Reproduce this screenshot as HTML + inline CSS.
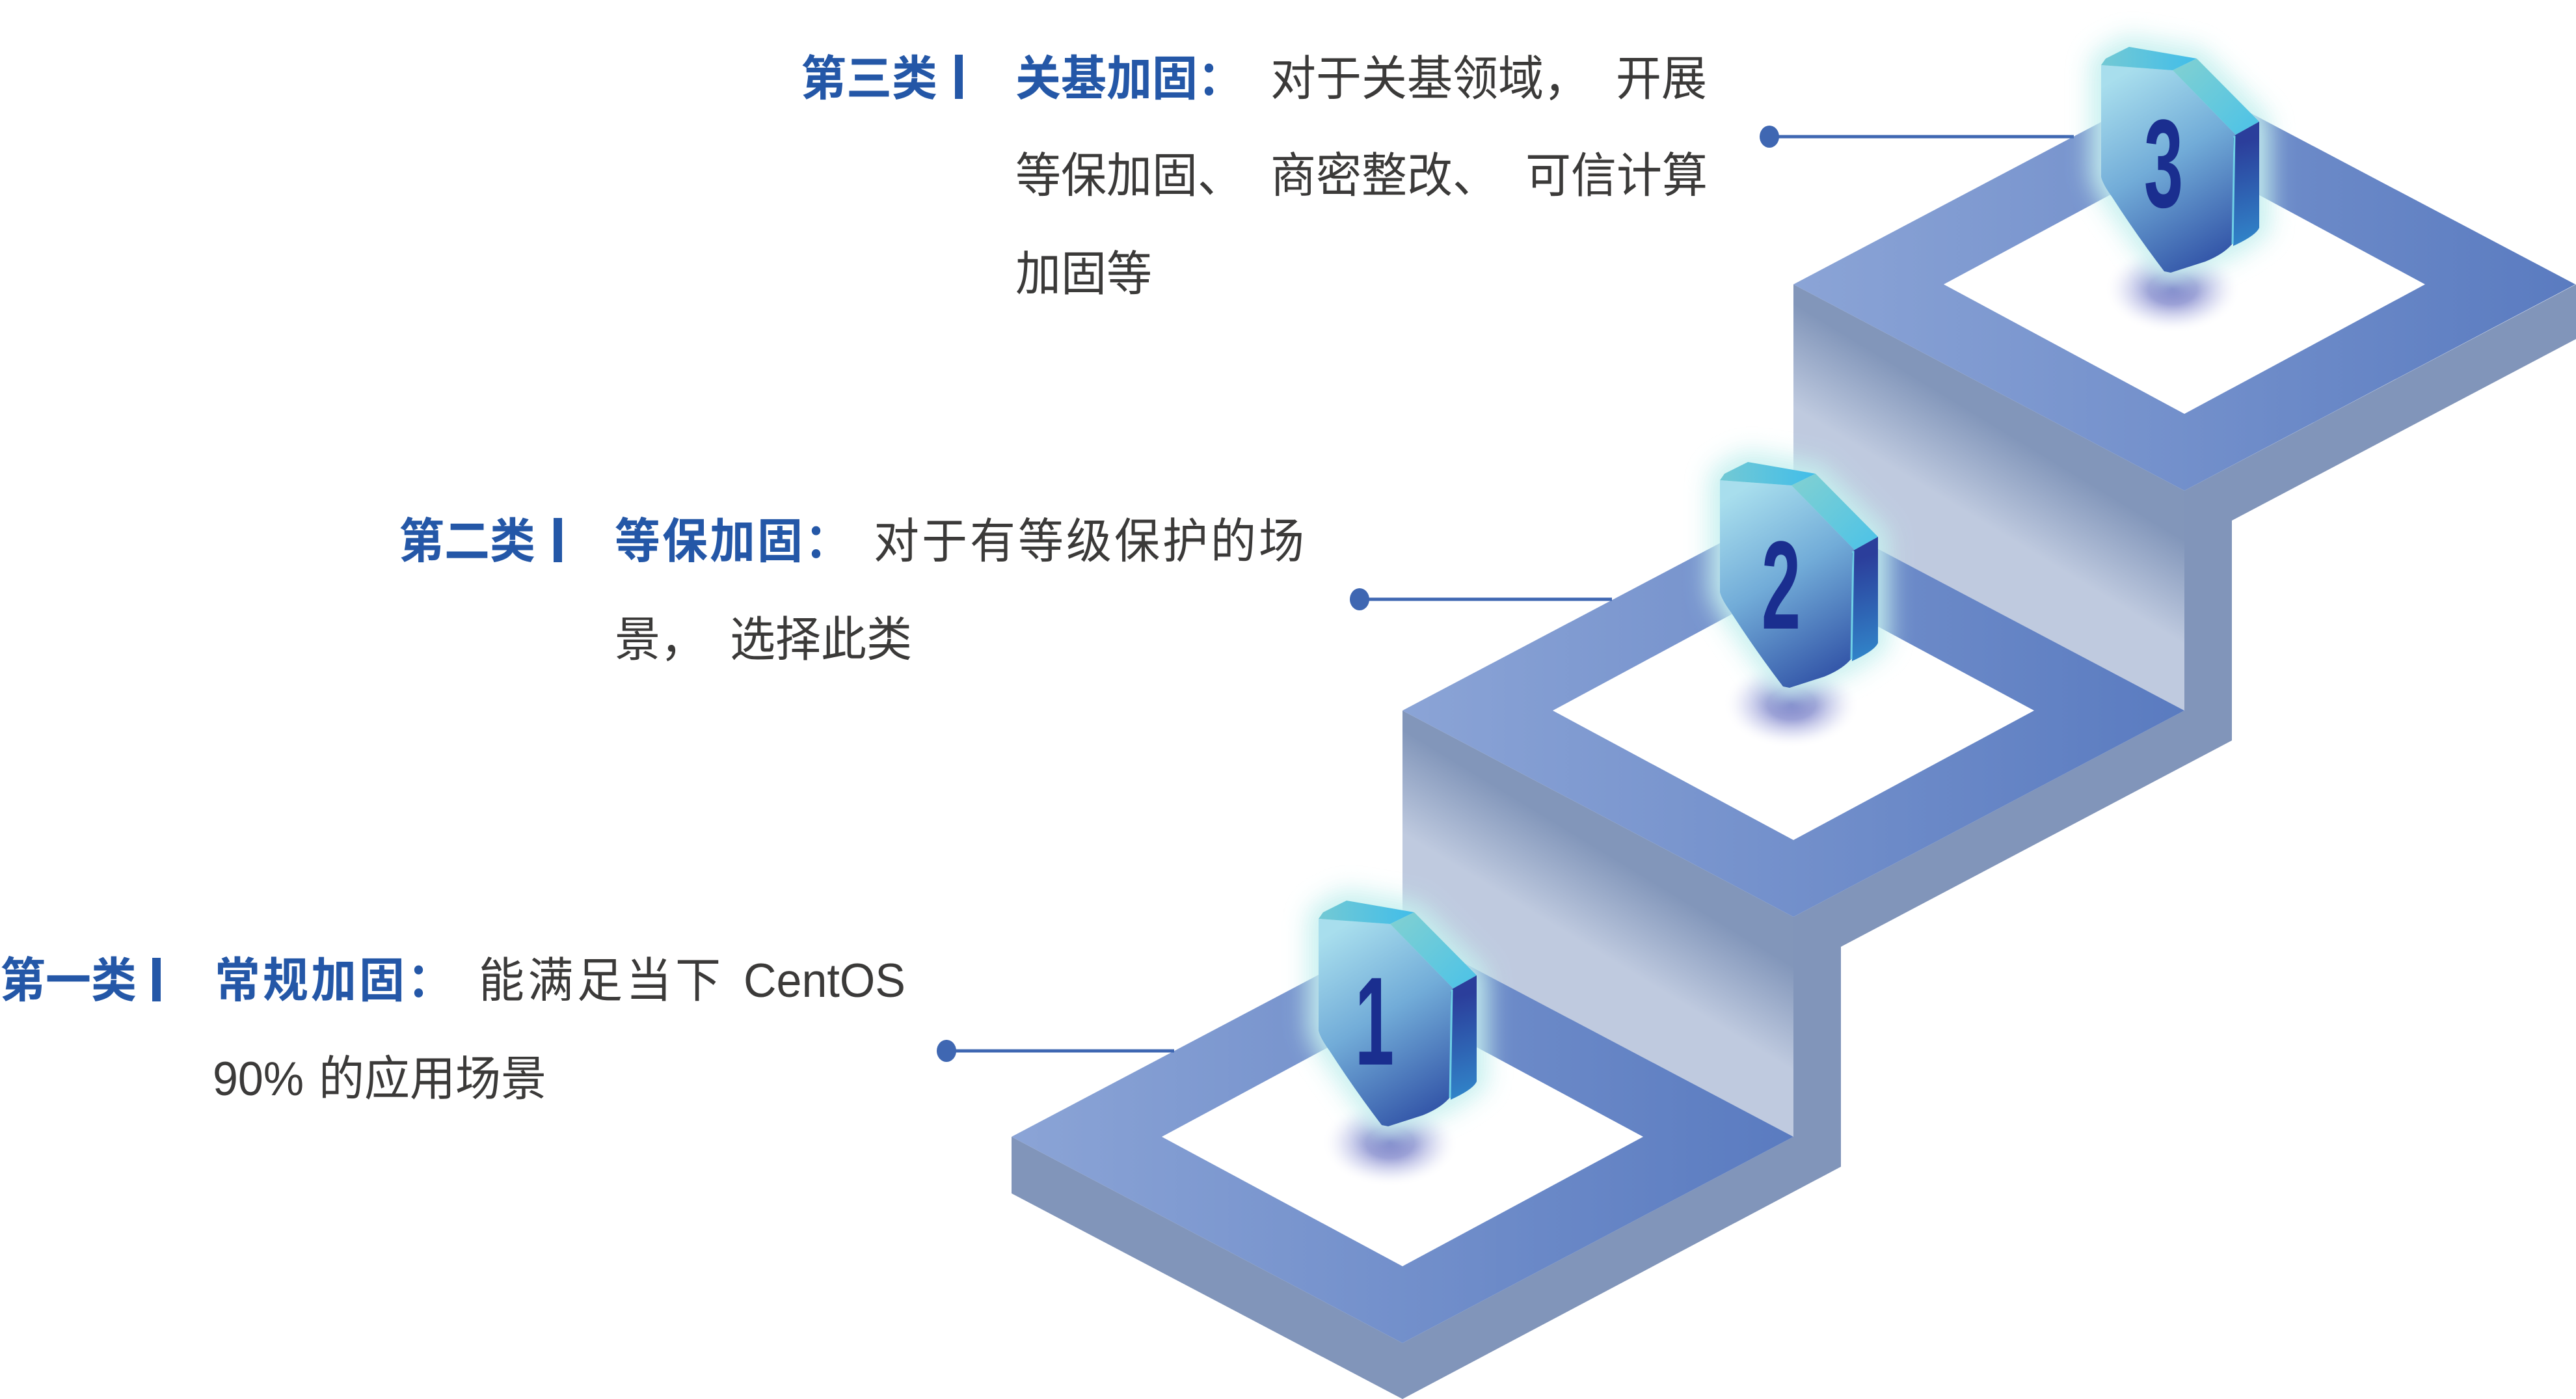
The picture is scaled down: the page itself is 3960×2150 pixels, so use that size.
<!DOCTYPE html>
<html><head><meta charset="utf-8"><style>
html,body{margin:0;padding:0;background:#fff;}
svg{display:block;}
.t{font-family:"Liberation Sans","Noto Sans CJK SC",sans-serif;font-size:70px;}
.b{fill:#2457a7;font-weight:700;}
.d{fill:#3b3a39;font-weight:400;}
</style></head><body>
<svg width="3960" height="2150" viewBox="0 0 3960 2150" xmlns="http://www.w3.org/2000/svg">
<defs>
  <linearGradient id="top1" gradientUnits="userSpaceOnUse" x1="1555" y1="0" x2="2757" y2="0"><stop offset="0" stop-color="#8ba4d6"/><stop offset="1" stop-color="#5a7bc0"/></linearGradient>
  <linearGradient id="top2" gradientUnits="userSpaceOnUse" x1="2156" y1="0" x2="3358" y2="0"><stop offset="0" stop-color="#8ba4d6"/><stop offset="1" stop-color="#5a7bc0"/></linearGradient>
  <linearGradient id="top3" gradientUnits="userSpaceOnUse" x1="2757" y1="0" x2="3959" y2="0"><stop offset="0" stop-color="#8ba4d6"/><stop offset="1" stop-color="#5a7bc0"/></linearGradient>
  <linearGradient id="ris3" gradientUnits="userSpaceOnUse" x1="3052" y1="805" x2="3123" y2="688"><stop offset="0" stop-color="#bfcadf"/><stop offset="1" stop-color="#8296ba"/></linearGradient>
  <linearGradient id="ris2" gradientUnits="userSpaceOnUse" x1="2451" y1="1460" x2="2522" y2="1343"><stop offset="0" stop-color="#bfcadf"/><stop offset="1" stop-color="#8296ba"/></linearGradient>
  <linearGradient id="shF" gradientUnits="userSpaceOnUse" x1="20" y1="50" x2="190" y2="330"><stop offset="0" stop-color="#a8deed"/><stop offset="0.45" stop-color="#72acd8"/><stop offset="1" stop-color="#2f50a5"/></linearGradient>
  <linearGradient id="shT" gradientUnits="userSpaceOnUse" x1="0" y1="0" x2="150" y2="0"><stop offset="0" stop-color="#73c9d4"/><stop offset="1" stop-color="#40bdea"/></linearGradient>
  <linearGradient id="shB" gradientUnits="userSpaceOnUse" x1="120" y1="20" x2="230" y2="130"><stop offset="0" stop-color="#80d0d2"/><stop offset="1" stop-color="#4fc3e6"/></linearGradient>
  <linearGradient id="shR" gradientUnits="userSpaceOnUse" x1="205" y1="150" x2="245" y2="300"><stop offset="0" stop-color="#2b3e9b"/><stop offset="1" stop-color="#3186ca"/></linearGradient>
  <radialGradient id="shad" cx="0.5" cy="0.5" r="0.5">
    <stop offset="0" stop-color="#6e72c2" stop-opacity="0.95"/>
    <stop offset="0.35" stop-color="#7a80c8" stop-opacity="0.75"/>
    <stop offset="0.7" stop-color="#a9aee0" stop-opacity="0.3"/>
    <stop offset="1" stop-color="#ffffff" stop-opacity="0"/>
  </radialGradient>
  <filter id="blurG" x="-50%" y="-50%" width="200%" height="200%"><feGaussianBlur stdDeviation="18"/></filter>
  <g id="shield">
    <ellipse cx="110" cy="372" rx="105" ry="68" fill="url(#shad)"/>
    <path d="M0,28 L7,18 L43,0 L147,18 L243,115 L243,278 L203,306 L107,347 L97,345 L17,231 L0,200 Z" fill="#c6f0ef" stroke="#c6f0ef" stroke-width="34" stroke-linejoin="round" opacity="0.95" filter="url(#blurG)"/>
    <path d="M0,28 L110,36 L207,135 L203,301 Q190,318 160,330 L107,347 L97,345 Q55,290 17,231 Q3,212 0,200 Z" fill="url(#shF)"/>
    <path d="M0,28 L7,18 L43,0 L147,18 L110,36 Z" fill="url(#shT)"/>
    <path d="M110,36 L147,18 L243,115 L207,135 Z" fill="url(#shB)"/>
    <path d="M207,135 L243,115 L243,278 Q238,290 203,306 L203,140 Z" fill="url(#shR)"/>
    <line x1="205" y1="137" x2="202" y2="303" stroke="#6fd0e6" stroke-width="3"/>
  </g>
</defs>

<!-- side profile face -->
<polygon points="2156,2064 2757,1747 2757,1409 3358,1092 3358,754 3960,437 3960,521 3431,800 3431,1138 2830,1455 2830,1793 2156,2150" fill="#8195ba"/>
<!-- step 1 front slab -->
<polygon points="1555,1747 2156,2064 2156,2150 1555,1834" fill="#8195ba"/>
<!-- risers -->
<polygon points="2156,1092 2757,1409 2757,1747 2156,1430" fill="url(#ris2)"/>
<polygon points="2757,437 3358,754 3358,1092 2757,775" fill="url(#ris3)"/>
<!-- top faces with holes -->
<path fill-rule="evenodd" fill="url(#top1)" d="M1555,1747 L2156,1430 L2757,1747 L2156,2064 Z M1786,1747 L2156,1946 L2526,1747 L2156,1548 Z"/>
<path fill-rule="evenodd" fill="url(#top2)" d="M2156,1092 L2757,775 L3358,1092 L2757,1409 Z M2387,1092 L2757,1291 L3127,1092 L2757,893 Z"/>
<path fill-rule="evenodd" fill="url(#top3)" d="M2757,437 L3358,120 L3959,437 L3358,754 Z M2988,437 L3358,636 L3728,437 L3358,238 Z"/>

<!-- connectors -->
<g fill="#3f67b2" stroke="#3f67b2">
  <line x1="2720" y1="210" x2="3188" y2="210" stroke-width="5"/>
  <ellipse cx="2720" cy="210" rx="15" ry="17" stroke="none"/>
  <line x1="2090" y1="921" x2="2478" y2="921" stroke-width="5"/>
  <ellipse cx="2090" cy="921" rx="15" ry="17" stroke="none"/>
  <line x1="1455" y1="1615" x2="1805" y2="1615" stroke-width="5"/>
  <ellipse cx="1455" cy="1615" rx="15" ry="17" stroke="none"/>
</g>

<!-- shields -->
<g transform="translate(2027,1384)">
  <use href="#shield"/>
  <g transform="translate(86,252) scale(0.56,1)"><text x="0" y="0" text-anchor="middle" font-family="Liberation Sans, sans-serif" font-weight="700" font-size="193" fill="#1a2e8f">1</text></g>
</g>
<g transform="translate(2644,710)">
  <use href="#shield"/>
  <g transform="translate(94,256) scale(0.56,1)"><text x="0" y="0" text-anchor="middle" font-family="Liberation Sans, sans-serif" font-weight="700" font-size="193" fill="#1a2e8f">2</text></g>
</g>
<g transform="translate(3230,72)">
  <use href="#shield"/>
  <g transform="translate(96,246) scale(0.56,1)"><text x="0" y="0" text-anchor="middle" font-family="Liberation Sans, sans-serif" font-weight="700" font-size="193" fill="#1a2e8f">3</text></g>
</g>

<!-- bars -->
<rect x="1468" y="84" width="12" height="68" fill="#2457a7"/>
<rect x="851" y="796" width="13" height="68" fill="#2457a7"/>
<rect x="234" y="1472" width="13" height="67" fill="#2457a7"/>

<!-- Block: 第三类 -->
<g class="t" transform="translate(0,146) scale(1,1.05)">
  <text class="b" y="0" x="1231 1301 1371">第三类</text>
  <text class="b" y="0" x="1561 1631 1701 1771 1841">关基加固：</text>
  <text class="d" y="0" x="1953 2023 2093 2163 2233 2303 2373">对于关基领域，</text>
  <text class="d" y="0" x="2484 2554">开展</text>
</g>
<g class="t" transform="translate(0,295) scale(1,1.05)">
  <text class="d" y="0" x="1561 1631 1701 1771 1841">等保加固、</text>
  <text class="d" y="0" x="1953 2023 2093 2163 2233">商密整改、</text>
  <text class="d" y="0" x="2345 2415 2485 2555">可信计算</text>
</g>
<g class="t" transform="translate(0,446) scale(1,1.05)">
  <text class="d" y="0" x="1561 1631 1701">加固等</text>
</g>

<!-- Block: 第二类 -->
<g class="t" transform="translate(0,857) scale(1,1.05)">
  <text class="b" y="0" x="613 683 753">第二类</text>
  <text class="b" y="0" x="945 1018 1091 1164 1237">等保加固：</text>
  <text class="d" y="0" x="1343 1417 1491 1565 1639 1713 1787 1861 1935">对于有等级保护的场</text>
</g>
<g class="t" transform="translate(0,1008) scale(1,1.05)">
  <text class="d" y="0" x="945 1015">景，</text>
  <text class="d" y="0" x="1122 1192 1262 1332">选择此类</text>
</g>

<!-- Block: 第一类 -->
<g class="t" transform="translate(0,1532) scale(1,1.05)">
  <text class="b" y="0" x="0 70 140">第一类</text>
  <text class="b" y="0" x="330 404 478 552 626">常规加固：</text>
  <text class="d" y="0" x="736 811.5 887 962.5 1038">能满足当下</text>
  <text class="d" y="0" x="1143">CentOS</text>
</g>
<g class="t" transform="translate(0,1683) scale(1,1.05)">
  <text class="d" y="0" x="327">90%</text>
  <text class="d" y="0" x="490 560 630 700 770">的应用场景</text>
</g>
</svg>
</body></html>
